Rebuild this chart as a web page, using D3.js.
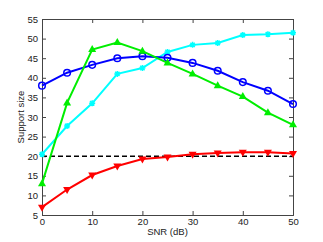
<!DOCTYPE html>
<html>
<head>
<meta charset="utf-8">
<script src="https://cdn.jsdelivr.net/npm/d3@7"></script>
<style>
  body { margin: 0; background: #fff; }
  text { font-family: "Liberation Sans", Arial, sans-serif; }
</style>
</head>
<body>
<div id="chart"></div>
<script>
// SNR values (dB)
var snr = [0, 5, 10, 15, 20, 25, 30, 35, 40, 45, 50];
var blueVals  = [38, 41.3, 43.3, 45, 45.5, 45.1, 43.8, 41.8, 38.9, 36.7, 33.3];
var cyanVals  = [20.5, 27.7, 33.5, 41, 42.5, 46.6, 48.4, 48.9, 50.9, 51.1, 51.5];
var greenVals = [13, 33.6, 47.2, 49, 46.8, 43.8, 41, 38, 35.2, 31.1, 28];
var redVals   = [7, 11.5, 15.2, 17.5, 19.3, 19.8, 20.5, 20.8, 21, 21, 20.7];
var refLevel = 20;
var xTicks = [0, 10, 20, 30, 40, 50];
var yTicks = [5, 10, 15, 20, 25, 30, 35, 40, 45, 50, 55];

var svgWidth = 323, svgHeight = 242;
var margin = { top: 19, bottom: 27, right: 30, left: 42 };
var width = svgWidth - margin.left - margin.right;
var height = svgHeight - margin.top - margin.bottom;

var svg = d3.select("#chart").append("svg")
  .attr("width", svgWidth)
  .attr("height", svgHeight);

var g = svg.append("g")
  .attr("transform", `translate(${margin.left}, ${margin.top})`);

var x = d3.scaleLinear().domain([0, 50]).range([0, width]);
var y = d3.scaleLinear().domain([5, 55]).range([height, 0]);

var axisColor = "#444";

// axes with inward ticks, box style
var xAxis = g.append("g")
  .attr("transform", `translate(0, ${height})`)
  .call(d3.axisBottom(x).tickValues(xTicks).tickSize(-4).tickPadding(3));
var xTop = g.append("g")
  .call(d3.axisTop(x).tickValues(xTicks).tickSize(-4).tickFormat(""));
var yAxis = g.append("g")
  .call(d3.axisLeft(y).tickValues(yTicks).tickSize(-4).tickPadding(4));
var yRight = g.append("g")
  .attr("transform", `translate(${width}, 0)`)
  .call(d3.axisRight(y).tickValues(yTicks).tickSize(-4).tickFormat(""));

[xAxis, xTop, yAxis, yRight].forEach(function(a) {
  a.select(".domain").attr("stroke", axisColor).attr("stroke-width", 1);
  a.selectAll(".tick line").attr("stroke", axisColor);
  a.selectAll("text").attr("font-size", "9.5px").attr("fill", "#222");
});

// dashed reference
g.append("line")
  .attr("x1", x(0)).attr("x2", x(50))
  .attr("y1", y(refLevel)).attr("y2", y(refLevel))
  .attr("stroke", "black")
  .attr("stroke-width", 1.5)
  .attr("stroke-dasharray", "5,3");

var line = d3.line().x(function(d) { return x(d[0]); }).y(function(d) { return y(d[1]); });

function series(vals, color) {
  var pts = snr.map(function(s, i) { return [s, vals[i]]; });
  g.append("path")
    .datum(pts)
    .attr("fill", "none")
    .attr("stroke", color)
    .attr("stroke-width", 2)
    .attr("d", line);
  return pts;
}

// cyan stars
var cyanPts = series(cyanVals, "#00ffff");
g.append("g").selectAll("path")
  .data(cyanPts).enter().append("path")
  .attr("transform", d => `translate(${x(d[0])}, ${y(d[1])})`)
  .attr("d", "M-3,0L3,0M0,-3L0,3M-2.2,-2.2L2.2,2.2M-2.2,2.2L2.2,-2.2")
  .attr("stroke", "#00ffff").attr("stroke-width", 1.5);

// blue circles
var bluePts = series(blueVals, "#0000ff");
g.append("g").selectAll("circle")
  .data(bluePts).enter().append("circle")
  .attr("cx", d => x(d[0])).attr("cy", d => y(d[1]))
  .attr("r", 3.3)
  .attr("fill", "none").attr("stroke", "#0000ff").attr("stroke-width", 1.5);

// green up triangles
var greenPts = series(greenVals, "#00ee00");
g.append("g").selectAll("path")
  .data(greenPts).enter().append("path")
  .attr("transform", d => `translate(${x(d[0])}, ${y(d[1])})`)
  .attr("d", "M0,-4.5L4,2.5L-4,2.5Z")
  .attr("fill", "#00ee00");

// red down triangles
var redPts = series(redVals, "#ff0000");
g.append("g").selectAll("path")
  .data(redPts).enter().append("path")
  .attr("transform", d => `translate(${x(d[0])}, ${y(d[1])})`)
  .attr("d", "M0,4.5L4,-2.5L-4,-2.5Z")
  .attr("fill", "#ff0000");

// axis labels
g.append("text")
  .attr("x", width / 2)
  .attr("y", height + 20)
  .attr("text-anchor", "middle")
  .attr("font-size", "9.5px")
  .attr("fill", "#222")
  .text("SNR (dB)");

g.append("text")
  .attr("transform", "rotate(-90)")
  .attr("x", -height / 2)
  .attr("y", -18)
  .attr("text-anchor", "middle")
  .attr("font-size", "9.5px")
  .attr("fill", "#222")
  .text("Support size");
</script>
</body>
</html>
